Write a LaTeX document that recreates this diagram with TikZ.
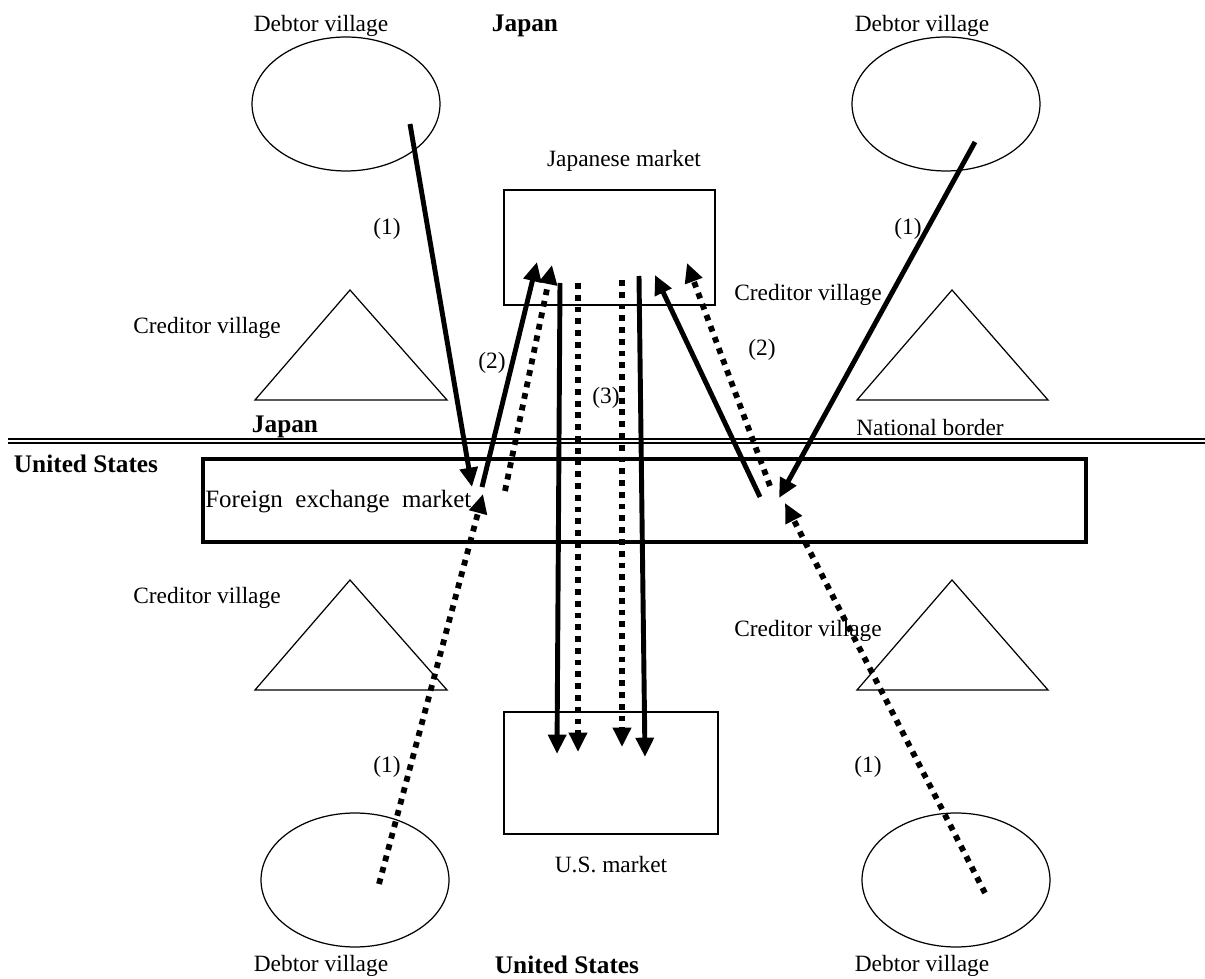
\documentclass[tikz,border=0pt]{standalone}
\usepackage{fontspec}
\setmainfont{Liberation Serif}
\usepackage{tikz}
\usetikzlibrary{arrows.meta}
\usetikzlibrary{shapes.geometric}

\tikzset{
  lbl/.style={inner sep=0pt, font=\fontsize{13.3}{15}\selectfont},
  boldlbl/.style={lbl, font=\fontsize{14.4}{16}\selectfont\bfseries},
  village/.style={draw, ellipse, line width=0.7pt, minimum width=3.76cm, minimum height=2.68cm},
  market/.style={draw, rectangle, line width=0.7pt},
  flow/.style={line width=2.8pt, -{Triangle[length=11pt,width=10pt]}},
  dotflow/.style={line width=3.3pt, dash pattern=on 3.3pt off 3.4pt, -{Triangle[length=11pt,width=10pt]}},
}

\begin{document}
\begin{tikzpicture}[x=0.02cm, y=-0.02cm]
            \useasboundingbox (0,0) rectangle (1205,979);
            % debtor villages
            \node[village] (debtorNW) at (346,104) {};
            \node[village] (debtorNE) at (946,104) {};
            \node[village] (debtorSW) at (355,880) {};
            \node[village] (debtorSE) at (956,880) {};
            % creditor villages
            \draw[line width=0.7pt] (255,400) -- (350,290) -- (447,400) -- cycle;
            \draw[line width=0.7pt] (857,400) -- (952,290) -- (1048,400) -- cycle;
            \draw[line width=0.7pt] (255,690) -- (350,580) -- (447,690) -- cycle;
            \draw[line width=0.7pt] (857,690) -- (952,580) -- (1048,690) -- cycle;
            % markets
            \node[market, minimum width=4.22cm, minimum height=2.3cm] (jpmarket) at (609.5,247.5) {};
            \node[market, minimum width=4.28cm, minimum height=2.44cm] (usmarket) at (611,773) {};
            \node[draw, line width=2.4pt, minimum width=17.66cm, minimum height=1.66cm] (fxmarket) at (644.5,500.5) {};
            % national border
            \coordinate (borderW) at (8,441);
            \coordinate (borderE) at (1205,441);
            \draw[line width=0.6pt, double, double distance=1.7pt] (borderW) -- (borderE);
            % labels
            \node[lbl] (lDebtorNW) at (321,26) {Debtor village};
            \node[lbl] (lDebtorNE) at (922,26) {Debtor village};
            \node[lbl] (lDebtorSW) at (321,966) {Debtor village};
            \node[lbl] (lDebtorSE) at (922,966) {Debtor village};
            \node[boldlbl] (lJapanN) at (525,26) {Japan};
            \node[boldlbl] (lUSS) at (567,965) {United States};
            \node[boldlbl] (lJapanW) at (285,427) {Japan};
            \node[boldlbl] (lUSW) at (86,464) {United States};
            \node[lbl] (lBorder) at (930,428) {National border};
            \node[lbl] (lJpMarket) at (624,161) {Japanese market};
            \node[lbl] (lUsMarket) at (611,865) {U.S. market};
            \node[lbl, anchor=west, font=\fontsize{14.2}{16}\selectfont] (lFx) at (205,502) {Foreign\ \ exchange\ \ market};
            \node[lbl] (lCreditorNW) at (207,328) {Creditor village};
            \node[lbl] (lCreditorNE) at (808,295) {Creditor village};
            \node[lbl] (lCreditorSW) at (207,598) {Creditor village};
            \node[lbl] (lCreditorSE) at (808,631) {Creditor village};
            \node[lbl] (one1) at (387,229) {(1)};
            \node[lbl] (one2) at (908,229) {(1)};
            \node[lbl] (one3) at (387,767) {(1)};
            \node[lbl] (one4) at (868,767) {(1)};
            \node[lbl] (two1) at (492,363) {(2)};
            \node[lbl] (two2) at (762,350) {(2)};
            \node[lbl] (three) at (606,398) {(3)};
            % arrow ends
            \coordinate (a1s) at (410,124);  \coordinate (a1e) at (472,487);
            \coordinate (a2s) at (482,487);  \coordinate (a2e) at (537,262);
            \coordinate (a3s) at (505,491);  \coordinate (a3e) at (552,265);
            \coordinate (a4s) at (560,283);  \coordinate (a4e) at (557,754);
            \coordinate (a5s) at (578,283);  \coordinate (a5e) at (578,752);
            \coordinate (a6s) at (622,280);  \coordinate (a6e) at (622,747);
            \coordinate (a7s) at (639,276);  \coordinate (a7e) at (645,757);
            \coordinate (a8s) at (760,497);  \coordinate (a8e) at (655,275);
            \coordinate (a9s) at (770,486);  \coordinate (a9e) at (687,263);
            \coordinate (a10s) at (975,142); \coordinate (a10e) at (779,498);
            \coordinate (a11s) at (985,893); \coordinate (a11e) at (785,503);
            \coordinate (a12s) at (379,884); \coordinate (a12e) at (483,494);
            % flows
            \draw[flow] (a1s) -- (a1e);
            \draw[flow] (a2s) -- (a2e);
            \draw[dotflow] (a3s) -- (a3e);
            \draw[flow] (a4s) -- (a4e);
            \draw[dotflow] (a5s) -- (a5e);
            \draw[dotflow] (a6s) -- (a6e);
            \draw[flow] (a7s) -- (a7e);
            \draw[flow] (a8s) -- (a8e);
            \draw[dotflow] (a9s) -- (a9e);
            \draw[flow] (a10s) -- (a10e);
            \draw[dotflow] (a11s) -- (a11e);
            \draw[dotflow] (a12s) -- (a12e);
        \end{tikzpicture}
\end{document}
